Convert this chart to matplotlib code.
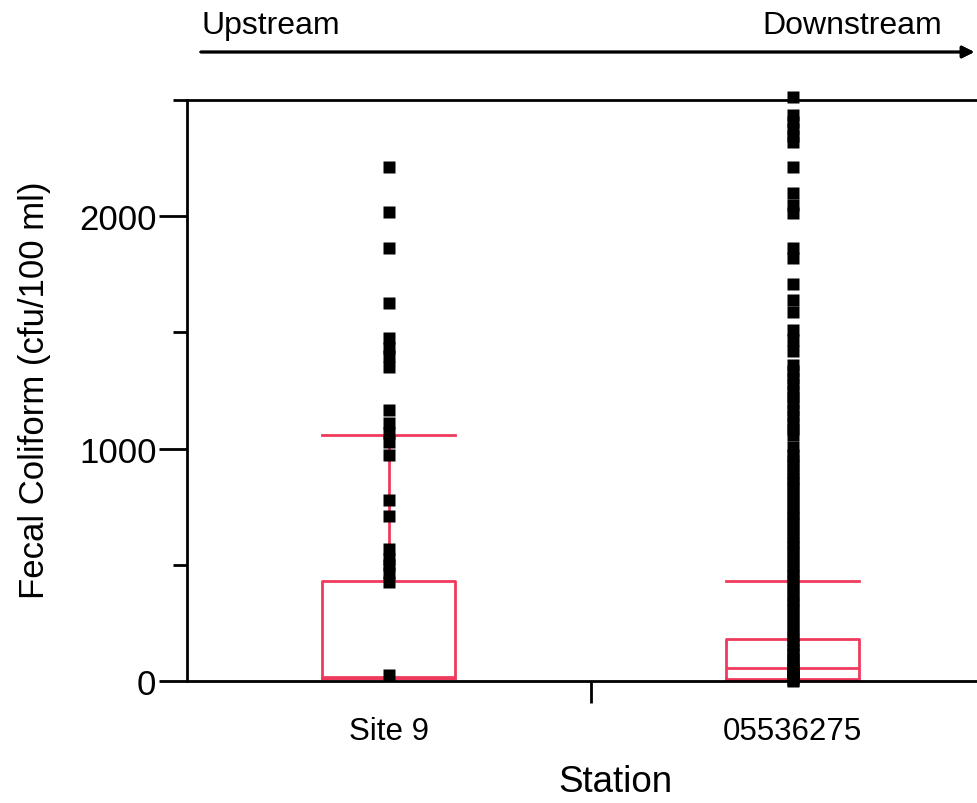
import numpy as np
import matplotlib
matplotlib.use("Agg")
import matplotlib.pyplot as plt
from matplotlib.ticker import FixedLocator

plt.rcParams['font.family'] = ['Liberation Sans', 'DejaVu Sans']

# ---- data ----
stations = ['Site 9', '05536275']

site9_vals = [2210, 2016, 1864, 1627, 1474, 1435, 1397, 1351, 1168, 1112,
              1066, 1028, 972, 778, 709, 566, 527, 497, 466, 427, 27]

usgs_vals = [2515, 2435, 2405, 2375, 2345, 2320, 2211, 2100, 2049, 2015,
             1862, 1819, 1708, 1640, 1589, 1512, 1469, 1418,
             1360, 1332, 1305, 1278, 1250, 1222, 1195, 1168, 1140, 1112,
             1085, 1060, 1008, 974, 950, 925, 900, 875, 850, 825, 800,
             775, 750, 725, 700, 675, 650, 625, 600, 575, 550, 525, 500,
             475, 450, 425, 400, 375, 350, 325, 300, 275, 250, 225, 200,
             178, 155, 135, 115, 96, 80, 65, 52, 40, 30, 20, 12, 5, 0]

# box statistics: whisker low, q1, median, q3, whisker high
whislo = [13, 0]
q1 = [13, 8]
med = [17, 56]
q3 = [431, 181]
whishi = [1057, 429]

box_col = '#EF3A5D'

fig = plt.figure(figsize=(9.77, 8.04), dpi=100, facecolor='w')
ax = fig.add_axes([187/977, 1-682/804, (994.5-187)/977, (682-101)/804])

stats = []
for i in range(len(stations)):
    stats.append(dict(whislo=whislo[i], q1=q1[i], med=med[i], q3=q3[i],
                      whishi=whishi[i], label=stations[i]))

ax.bxp(stats, positions=[0, 1], widths=0.33, capwidths=0.33, showfliers=False,
       boxprops=dict(color=box_col, lw=2),
       whiskerprops=dict(color=box_col, lw=2),
       capprops=dict(color=box_col, lw=2),
       medianprops=dict(color=box_col, lw=2))

ax.plot(np.zeros(len(site9_vals)), site9_vals, 's', color='k', ms=8,
        mec='none', zorder=5, clip_on=False)
ax.plot(np.ones(len(usgs_vals)), usgs_vals, 's', color='k', ms=8,
        mec='none', zorder=5, clip_on=False)

ax.set_xlim(-0.5, 1.5)
ax.set_ylim(0, 2500)

ax.spines['right'].set_visible(False)
for s in ['left', 'top', 'bottom']:
    ax.spines[s].set_linewidth(2)

ax.set_yticks([0, 1000, 2000])
ax.yaxis.set_minor_locator(FixedLocator([500, 1500, 2500]))
ax.tick_params(axis='y', which='major', length=20, width=2, labelsize=25, pad=2)
ax.tick_params(axis='y', which='minor', length=10, width=2)

ax.set_xticks([0, 1])
ax.set_xticklabels(stations)
ax.xaxis.set_minor_locator(FixedLocator([0.5]))
ax.tick_params(axis='x', which='major', length=0, labelsize=22.5, pad=25)
ax.tick_params(axis='x', which='minor', length=16, width=2)

fig.text(35/977, 1-390/804, 'Fecal Coliform (cfu/100 ml)', rotation=90,
         ha='center', va='center', fontsize=25)
fig.text(615/977, 1-783/804, 'Station', ha='center', va='center', fontsize=26.5)

# upstream -> downstream arrow
fig.text(202/977, 1-26/804, 'Upstream', ha='left', va='center', fontsize=23)
fig.text(762/977, 1-26/804, 'Downstream', ha='left', va='center', fontsize=23)
fig.add_artist(plt.annotate('', xy=(977/977, 1-53/804), xytext=(198/977, 1-53/804),
                            xycoords='figure fraction', textcoords='figure fraction',
                            arrowprops=dict(arrowstyle='-|>', color='k', lw=2,
                                            mutation_scale=18)))

fig.savefig('out.png', dpi=100)
